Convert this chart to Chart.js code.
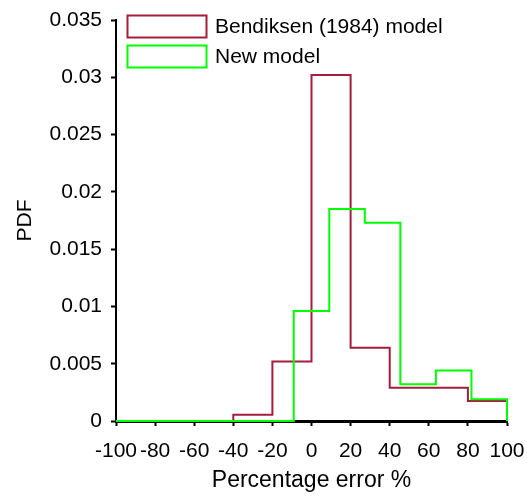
<!DOCTYPE html>
<html>
<head>
<meta charset="utf-8">
<script src="https://cdn.jsdelivr.net/npm/chart.js@4/dist/chart.umd.min.js"></script>
<style>
  html, body { margin: 0; padding: 0; background: #ffffff; }
  #wrap { width: 527px; height: 496px; }
</style>
</head>
<body>
<div id="wrap"><canvas id="c" width="527" height="496"></canvas></div>
<script>
// Histogram bin edges and densities for each model
const seriesNames = ['Bendiksen (1984) model', 'New model'];

const bendiksenEdges = [-100, -80, -60, -40, -20, 0, 20, 40, 60, 80, 100];
const bendiksenPdf   = [0, 0, 0, 0.00055, 0.0052, 0.0302, 0.0064, 0.0029, 0.0029, 0.00175];

const newEdges = [-100, -81.82, -63.64, -45.45, -27.27, -9.09, 9.09, 27.27, 45.45, 63.64, 81.82, 100];
const newPdf   = [0, 0, 0, 0, 0, 0.0096, 0.0185, 0.0173, 0.0032, 0.0044, 0.0019];

const xTickLabels = ['-100', '-80', '-60', '-40', '-20', '0', '20', '40', '60', '80', '100'];
const yTickLabels = ['0', '0.005', '0.01', '0.015', '0.02', '0.025', '0.03', '0.035'];

const xTitle = 'Percentage error %';
const yTitle = 'PDF';

const RED = '#A51C3C';
const GREEN = '#00FF00';
const FONT = '"Liberation Sans", Arial, Helvetica, sans-serif';

// Turn bin edges + heights into a stepped outline
function outline(edges, vals) {
  const pts = [{ x: edges[0], y: 0 }];
  for (let i = 0; i < vals.length; i++) {
    pts.push({ x: edges[i], y: vals[i] });
    pts.push({ x: edges[i + 1], y: vals[i] });
  }
  pts.push({ x: edges[edges.length - 1], y: 0 });
  return pts;
}

// Legend with outlined boxes drawn inside the plot
const boxLegend = {
  id: 'boxLegend',
  afterDraw(chart) {
    const ctx = chart.ctx;
    const items = [
      { label: seriesNames[0], color: RED, y: 15 },
      { label: seriesNames[1], color: GREEN, y: 45 }
    ];
    ctx.save();
    ctx.font = '21px ' + FONT;
    ctx.textBaseline = 'middle';
    ctx.textAlign = 'left';
    items.forEach(it => {
      ctx.strokeStyle = it.color;
      ctx.lineWidth = 2;
      ctx.strokeRect(127.5, it.y + 0.5, 79, 22);
      ctx.fillStyle = '#000';
      ctx.fillText(it.label, 215, it.y + 12);
    });
    ctx.restore();
  }
};

new Chart(document.getElementById('c'), {
  type: 'line',
  data: {
    datasets: [
      {
        label: seriesNames[0],
        data: outline(bendiksenEdges, bendiksenPdf),
        borderColor: RED,
        borderWidth: 2,
        pointRadius: 0,
        fill: false,
        tension: 0,
        clip: false,
        order: 1
      },
      {
        label: seriesNames[1],
        data: outline(newEdges, newPdf),
        borderColor: GREEN,
        borderWidth: 2,
        pointRadius: 0,
        fill: false,
        tension: 0,
        clip: false,
        order: 0
      }
    ]
  },
  options: {
    responsive: false,
    animation: false,
    events: [],
    layout: { padding: { left: 0, top: 20, right: 20, bottom: 0 } },
    plugins: {
      legend: { display: false },
      tooltip: { enabled: false }
    },
    scales: {
      x: {
        type: 'linear',
        min: -100,
        max: 100,
        afterFit(s) {
          s.height = 75;
          s.paddingLeft = 0;
          s.paddingRight = 0;
        },
        afterBuildTicks(s) {
          s.ticks = xTickLabels.map(t => ({ value: Number(t) }));
        },
        ticks: {
          autoSkip: false,
          maxRotation: 0,
          padding: 13,
          color: '#000',
          font: { family: FONT, size: 21 },
          callback: (v, i) => xTickLabels[i]
        },
        grid: {
          drawOnChartArea: false,
          drawTicks: true,
          tickLength: 5,
          tickColor: '#000',
          tickWidth: 2
        },
        border: { display: true, color: '#000', width: 3 },
        title: {
          display: true,
          text: xTitle,
          color: '#000',
          font: { family: FONT, size: 23 },
          padding: { top: 0, bottom: 2 }
        }
      },
      y: {
        type: 'linear',
        min: 0,
        max: 0.035,
        afterFit(s) {
          s.width = 116;
          s.paddingTop = 0;
          s.paddingBottom = 0;
        },
        afterBuildTicks(s) {
          s.ticks = yTickLabels.map(t => ({ value: Number(t) }));
        },
        ticks: {
          autoSkip: false,
          padding: 9,
          color: '#000',
          font: { family: FONT, size: 21 },
          callback: (v, i) => yTickLabels[i]
        },
        grid: {
          drawOnChartArea: false,
          drawTicks: true,
          tickLength: 5,
          tickColor: '#000',
          tickWidth: 2
        },
        border: { display: true, color: '#000', width: 2 },
        title: {
          display: true,
          text: yTitle,
          color: '#000',
          font: { family: FONT, size: 21 },
          padding: { top: 13, bottom: 0 }
        }
      }
    }
  },
  plugins: [boxLegend]
});
</script>
</body>
</html>
